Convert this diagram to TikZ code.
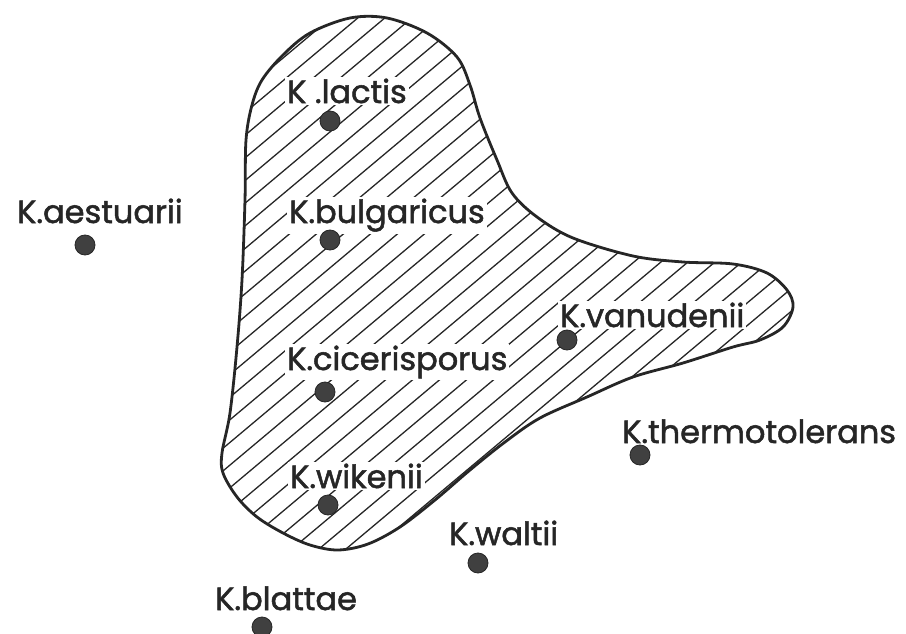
\documentclass[tikz,border=0pt]{standalone}
\usepackage{fontspec}
\newfontfamily\spfont[FakeBold=1.6]{Poppins}
\usepackage{tikz}
\usetikzlibrary{positioning}

\newcommand{\shared}{plot[smooth cycle,tension=0.55] coordinates {(283,55) (310,33) (350,18) (387,18) (427,33)
    (457,57) (470,85) (480,118) (497,160) (512,193) (537,217) (573,238) (633,256) (683,262) (733,264) (767,273)
    (787,290) (793,307) (783,327) (760,340) (733,347) (683,363) (633,377) (587,397) (540,418) (505,442) (470,470)
    (435,500) (400,527) (368,544) (338,550) (310,545) (283,533) (257,517) (237,497) (223,473) (222,453)
    (230,413) (237,347) (242,280) (245,200) (246,140) (252,105) (262,80)}}

\begin{document}
\begin{tikzpicture}[x=1pt,y=-1pt,
        sp/.style={font=\spfont\fontsize{32}{35}\selectfont,text=black!85,fill=white,inner sep=2pt,anchor=base west},
        pt/.style={circle,fill=black!75,draw=black!85,line width=0.8pt,minimum size=20pt,inner sep=0pt},
        hatch/.style={line width=1.3pt,black!85}]
    \useasboundingbox (0,0) rectangle (906,634);
    % region shared by the species
    \begin{scope}
        \clip \shared;
        \foreach \h in {-420,-393,...,820}
            \draw[hatch] (\h,580) -- ++(-40:1000);
    \end{scope}
    \draw[line width=2.8pt,black!85] \shared;
    % species
    \node[sp] (lactis) at (285,103) {K .lactis};
    \node[pt] (lactisdot) at (330,121) {};
    \node[sp] (bulgaricus) at (287,223) {K.bulgaricus};
    \node[pt] (bulgaricusdot) at (330,240) {};
    \node[sp] (aestuarii) at (15,223) {K.aestuarii};
    \node[pt] (aestuariidot) at (85,245) {};
    \node[sp] (vanudenii) at (558,327) {K.vanudenii};
    \node[pt] (vanudeniidot) at (567,340) {};
    \node[sp] (cicerisporus) at (285,370) {K.cicerisporus};
    \node[pt] (cicerisporusdot) at (325,392) {};
    \node[sp] (thermotolerans) at (620,443) {K.thermotolerans};
    \node[pt] (thermotoleransdot) at (640,455) {};
    \node[sp] (wikenii) at (288,488) {K.wikenii};
    \node[pt] (wikeniidot) at (328,505) {};
    \node[sp] (waltii) at (447,545) {K.waltii};
    \node[pt] (waltiidot) at (478,563) {};
    \node[sp] (blattae) at (213,610) {K.blattae};
    \node[pt] (blattaedot) at (262,627) {};
\end{tikzpicture}
\end{document}
